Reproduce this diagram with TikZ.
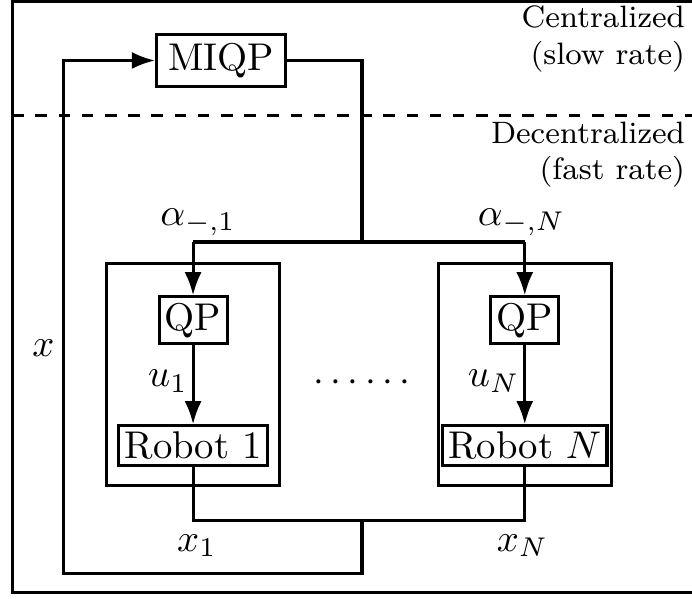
\documentclass[tikz,border=0pt]{standalone}
\usepackage{amsmath}
\usetikzlibrary{arrows, arrows.meta}

\begin{document}
\begin{tikzpicture}[>={Latex[length=6pt,width=4.4pt]}, thick]
			\useasboundingbox (0,0) rectangle (6.29,5.44);
			% frame and the two layers
			\draw (0.11,0.055) rectangle (6.6,5.425);
			\draw[dashed] (0.11,4.39) -- (6.29,4.39);
			\node[font=\footnotesize, align=right, anchor=east, inner sep=0pt] (central) at (6.24,5.085) {Centralized\\(slow rate)};
			\node[font=\footnotesize, align=right, anchor=east, inner sep=0pt] (decentral) at (6.24,4.035) {Decentralized\\(fast rate)};
			% blocks
			\node[draw, inner xsep=3pt, inner ysep=2.2pt] (miqp) at (2.01,4.89) {MIQP};
			\node[draw, minimum width=1.57cm, minimum height=2.02cm] (agent1) at (1.755,2.036) {};
			\node[draw, minimum width=1.57cm, minimum height=2.02cm] (agentN) at (4.77,2.036) {};
			\node[draw, inner sep=1.5pt] (qp1) at (1.755,2.53) {QP};
			\node[draw, inner sep=1.5pt] (qpN) at (4.77,2.53) {QP};
			\node[draw, inner sep=1.5pt] (robot1) at (1.755,1.39) {Robot 1};
			\node[draw, inner sep=1.5pt] (robotN) at (4.77,1.39) {Robot $N$};
			\node (dots) at (3.32,1.96) {$\cdots\cdots$};
			% junctions
			\coordinate (split) at (3.29,3.24);
			\coordinate (tap1) at (1.755,3.24);
			\coordinate (tapN) at (4.77,3.24);
			\coordinate (out1) at (1.755,0.71);
			\coordinate (outN) at (4.77,0.71);
			\coordinate (join) at (3.29,0.71);
			\coordinate (loopR) at (3.29,0.227);
			\coordinate (loopL) at (0.58,0.227);
			\coordinate (loopT) at (0.58,4.89);
			% signals
			\draw (miqp.east) -| (split);
			\draw (tap1) -- (tapN);
			\draw[->] (tap1) -- (qp1.north);
			\draw[->] (tapN) -- (qpN.north);
			\draw[->] (qp1) -- node[left, pos=0.46, inner sep=1pt]{$u_1$} (robot1);
			\draw[->] (qpN) -- node[left, pos=0.46, inner sep=1pt]{$u_N$} (robotN);
			\draw (robot1.south) -- (out1) -- (outN) -- (robotN.south);
			\draw[->] (join) -- (loopR) -- (loopL) -- node[left, pos=0.44, inner sep=2pt]{$x$} (loopT) -- (miqp.west);
			\node (alpha1) at (1.8,3.42) {$\alpha_{-,1}$};
			\node (alphaN) at (4.74,3.42) {$\alpha_{-,N}$};
			\node (x1) at (1.79,0.48) {$x_1$};
			\node (xN) at (4.75,0.48) {$x_N$};
		\end{tikzpicture}
\end{document}
